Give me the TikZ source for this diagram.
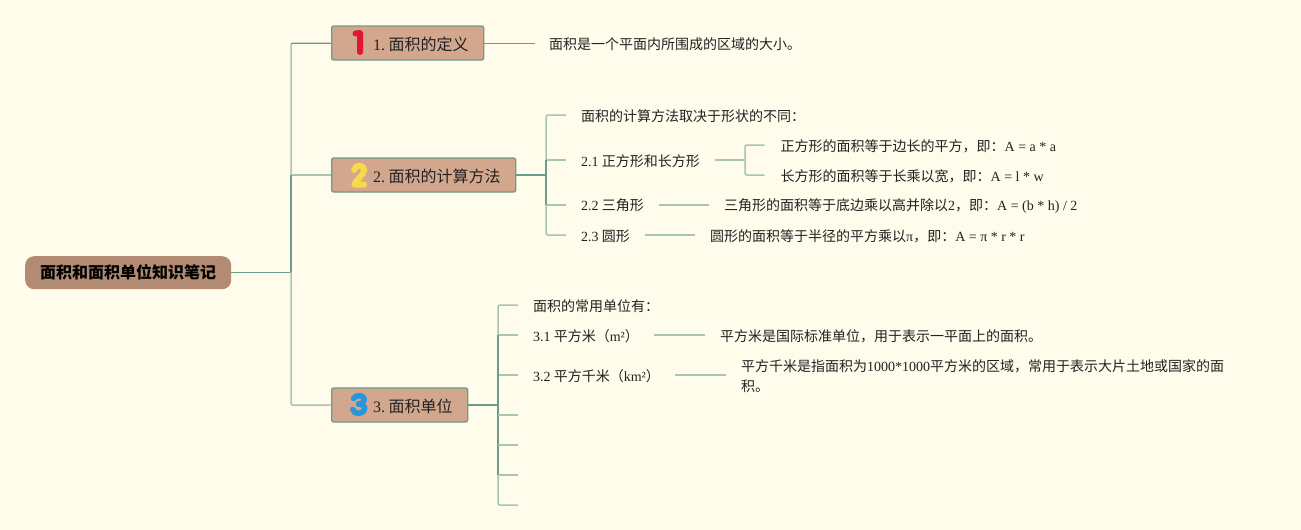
\documentclass[tikz,border=0pt]{standalone}
\usepackage{fontspec}
\setmainfont{Noto Sans CJK SC}
\newfontfamily\latfont{Liberation Serif}
\newcommand{\lat}[1]{{\latfont #1}}
\newcommand{\tlabel}[1]{\raisebox{-7.6pt}[0pt][0pt]{#1}}
\definecolor{paper}{HTML}{FFFCEB}
\definecolor{wirelight}{HTML}{A6C6B4}
\definecolor{wiredark}{HTML}{6A9C8C}
\definecolor{rootfill}{HTML}{B38B72}
\definecolor{topicfill}{HTML}{D2A78E}
\definecolor{ink}{HTML}{222222}
\definecolor{digitred}{HTML}{E31630}
\definecolor{digityellow}{HTML}{F7DA4A}
\definecolor{digitblue}{HTML}{2896DA}
\tikzset{
  x=1pt,y=-1pt,
  leaf/.style={anchor=west,inner sep=0pt,text=ink,align=left,font=\fontsize{14}{20}\selectfont},
  topic/.style={anchor=north west,draw=wiredark,line width=1.3pt,fill=topicfill,rounded corners=2pt,
     minimum height=34pt,inner xsep=15pt,inner ysep=0pt,align=right,text=ink,font=\fontsize{16}{20}\selectfont},
  rootbox/.style={anchor=north west,fill=rootfill,rounded corners=9pt,minimum width=206pt,minimum height=33pt,
     inner sep=0pt,text=black,font=\fontsize{16}{20}\selectfont\bfseries},
  wl/.style={draw=wirelight,line width=1.5pt,line join=round},
  wd/.style={draw=wiredark,line width=1.5pt,line join=round},
  wthin/.style={draw=wiredark,line width=1pt},
  digit/.style={line width=6pt,line cap=round,line join=round},
}
\begin{document}
\begin{tikzpicture}
\useasboundingbox[fill=paper] (0,0) rectangle (1301,530);

% nodes
\node[rootbox] (root) at (25,256) {面积和面积单位知识笔记};
\node[topic,text width=122pt] (t1) at (331,25.35) {\tlabel{\lat{1.}\kern3.5pt 面积的定义}};
\node[topic,text width=154pt] (t2) at (331,157.35) {\tlabel{\lat{2.}\kern3.5pt 面积的计算方法}};
\node[topic,text width=106pt] (t3) at (331,387.35) {\tlabel{\lat{3.}\kern3.5pt 面积单位}};

\node[leaf] (a1) at (549,44) {面积是一个平面内所围成的区域的大小。};

\node[leaf] (b0) at (581,116) {面积的计算方法取决于形状的不同：};
\node[leaf] (b1) at (581,161) {\lat{2.1} 正方形和长方形};
\node[leaf] (b2) at (581,205.6) {\lat{2.2} 三角形};
\node[leaf] (b3) at (581,236) {\lat{2.3} 圆形};
\node[leaf] (b1a) at (780.5,146.4) {正方形的面积等于边长的平方，即：\lat{A = a * a}};
\node[leaf] (b1b) at (780.5,176.4) {长方形的面积等于长乘以宽，即：\lat{A = l * w}};
\node[leaf] (b2a) at (724,206.4) {三角形的面积等于底边乘以高并除以\lat{2}，即：\lat{A = (b * h) / 2}};
\node[leaf] (b3a) at (710,236.4) {圆形的面积等于半径的平方乘以\lat{π}，即：\lat{A = π * r * r}};

\node[leaf] (c0) at (533,306.4) {面积的常用单位有：};
\node[leaf] (c1) at (533,336) {\lat{3.1} 平方米（\lat{m²}）};
\node[leaf] (c2) at (533,376.4) {\lat{3.2} 平方千米（\lat{km²}）};
\node[leaf] (c1a) at (720,336.4) {平方米是国际标准单位，用于表示一平面上的面积。};
\node[leaf] (c2a) at (741,376.4) {平方千米是指面积为\lat{1000*1000}平方米的区域，常用于表示大片土地或国家的面\\积。};

% junctions
\coordinate (ja) at (291,272);
\coordinate (jb) at (546,175);
\coordinate (jb1) at (745,160);
\coordinate (jc) at (498,405);
\coordinate (e1) at (518,415);
\coordinate (e2) at (518,445);
\coordinate (e3) at (518,475);
\coordinate (e4) at (518,505);
% wire levels of the leaves
\coordinate (la1) at (535,43);
\coordinate (lb0) at (566,115);
\coordinate (lb1) at (566,160);
\coordinate (lb2) at (566,205);
\coordinate (lb3) at (566,235);
\coordinate (lc0) at (518,305);
\coordinate (lc1) at (518,335);
\coordinate (lc2) at (518,375);

% root to topics
\draw[wthin] (root.east |- ja) -- (ja);
\draw[wl,rounded corners=1.5pt] (t1.west) -| (t2.west -| ja);
\draw[wthin] (t1.west) -- (t1.west -| ja);
\draw[wl] (t2.west) -- (t2.west -| ja);
\draw[wl,rounded corners=1.5pt] (t3.west) -| (ja);
\draw[wd] (t2.west -| ja) -- (ja);

% topic 1
\draw[wthin] (t1.east) -- (la1);

% topic 2
\draw[wd] (t2.east) -- (jb);
\draw[wl,rounded corners=1.5pt] (lb0) -| (jb |- lb1);
\draw[wl] (lb1) -- (jb |- lb1);
\draw[wd] (jb |- lb1) -- (jb |- lb2);
\draw[wl] (lb2) -- (jb |- lb2);
\draw[wl,rounded corners=1.5pt] (lb3) -| (jb |- lb2);

% 2.1 leaves
\draw[wl] ([xshift=15pt]b1.east |- jb1) -- (jb1);
\draw[wl,rounded corners=1.5pt] ([xshift=-16pt]b1a.west |- 0,145) -| (jb1) |- ([xshift=-16pt]b1b.west |- 0,175);
\draw[wl] ([xshift=15pt]b2.east |- lb2) -- ([xshift=-15pt]b2a.west |- lb2);
\draw[wl] ([xshift=15pt]b3.east |- lb3) -- ([xshift=-15pt]b3a.west |- lb3);

% topic 3
\draw[wd] (t3.east) -- (jc);
\draw[wl,rounded corners=1.5pt] (lc0) -| (jc |- lc1);
\draw[wl] (lc1) -- (jc |- lc1);
\draw[wl] (lc2) -- (jc |- lc2);
\draw[wd] (jc |- lc1) -- (jc |- e3);
\draw[wl] (e1) -- (jc |- e1);
\draw[wl] (e2) -- (jc |- e2);
\draw[wl] (e3) -- (jc |- e3);
\draw[wl,rounded corners=1.5pt] (e4) -| (jc |- e3);
\draw[wl] ([xshift=15pt]c1.east |- lc1) -- ([xshift=-15pt]c1a.west |- lc1);
\draw[wl] ([xshift=15pt]c2.east |- lc2) -- ([xshift=-15pt]c2a.west |- lc2);

% number icons
\draw[digit,draw=digitred] (355.5,33.5) -- (360,33) -- (360,52);
\draw[digit,line width=6pt,draw=digityellow] (354.2,170) .. controls (354.5,164.5) and (364.5,164) .. (364,170.5) .. controls (363.5,175) and (357,179) .. (354.2,184.5) -- (364,184.5);
\draw[digit,line width=5.6pt,draw=digitblue] (353.5,398.5) .. controls (355.5,394.5) and (364.5,394.5) .. (364.3,399.5) .. controls (364,402.5) and (362,403.8) .. (358.5,404) .. controls (362.5,404) and (365,406.5) .. (364.7,409) .. controls (364,414.5) and (354,415) .. (352.8,409.5);
\end{tikzpicture}
\end{document}
